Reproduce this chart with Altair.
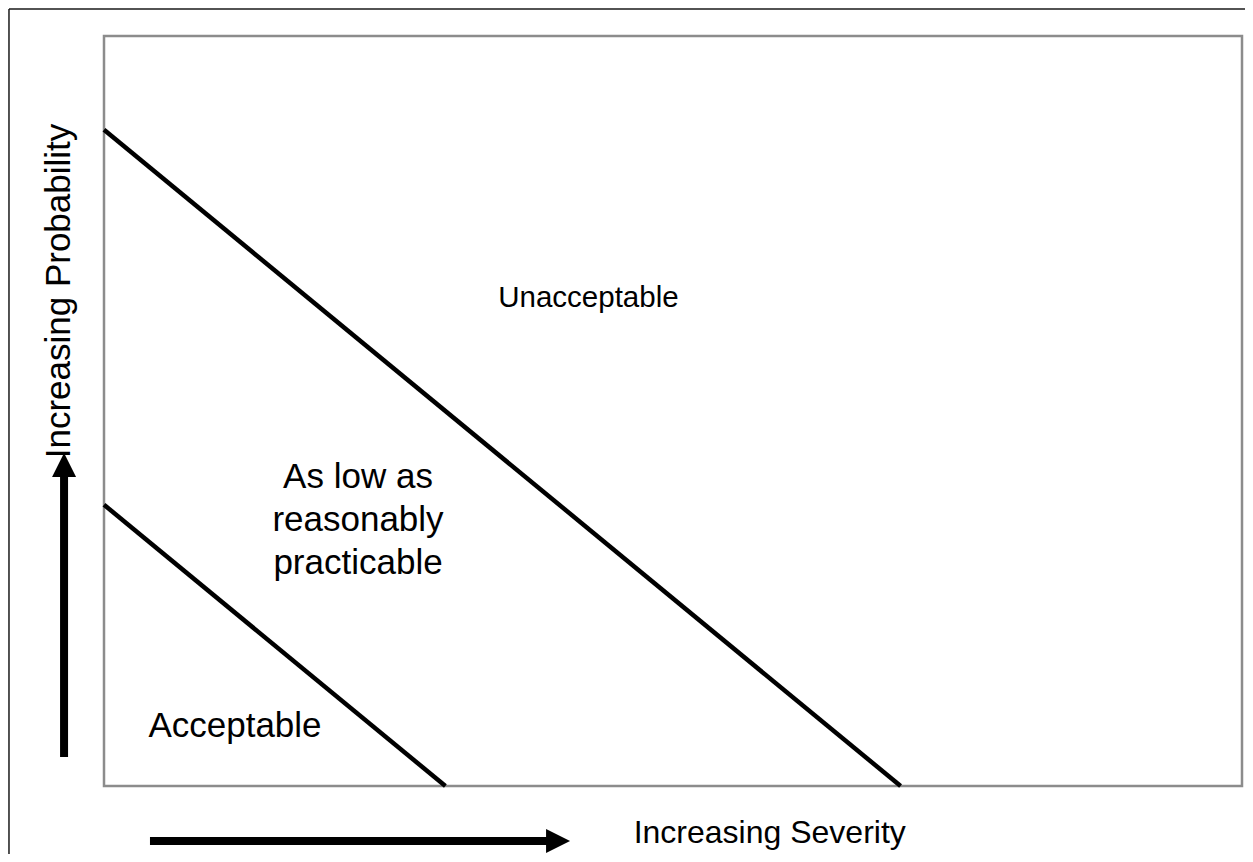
import altair as alt
import pandas as pd

# Plot box: severity 0-10 (x) by probability 0-10 (y)
boundary_group = ["upper", "upper", "lower", "lower"]
boundary_sev = [0.0, 7.0, 0.0, 3.0]
boundary_prob = [8.75, 0.0, 3.75, 0.0]

region_labels = ["Unacceptable", "As low as\nreasonably\npracticable", "Acceptable"]
region_sev = [4.257, 2.232, 1.151]
region_prob = [6.39, 3.973, 0.649]
region_size = [29.5, 35, 35]

axis_titles = ["Increasing Severity", "Increasing Probability"]
axis_title_sev = [5.85, -0.299]
axis_title_prob = [-0.76, 6.6]
axis_title_angle = [0, 270]
axis_title_size = [32, 35]

shaft_sev = [0.404, -0.351]
shaft_sev2 = [3.99, -0.351]
shaft_prob = [-0.733, 0.387]
shaft_prob2 = [-0.733, 4.28]
head_sev = [3.99, -0.351]
head_prob = [-0.733, 4.28]
head_shape = ["M1,0L-1,-1L-1,1Z", "M0,-1L1,1L-1,1Z"]

frame_sev = [-0.835, -0.835]
frame_sev2 = [-0.835, 10.4]
frame_prob = [-1.4, 10.36]
frame_prob2 = [10.36, 10.36]

FONT = "Liberation Sans"
xs = alt.Scale(domain=[0, 10], nice=False, zero=False)
ys = alt.Scale(domain=[0, 10], nice=False, zero=False)


def X(f):
    return alt.X(f, type="quantitative", scale=xs, axis=None)


def Y(f):
    return alt.Y(f, type="quantitative", scale=ys, axis=None)


lines_df = pd.DataFrame({"g": boundary_group, "s": boundary_sev, "p": boundary_prob})
lines = alt.Chart(lines_df).mark_line(color="black", strokeWidth=4.5, strokeCap="butt").encode(
    x=X("s"), y=Y("p"), detail="g:N"
)

reg_df = pd.DataFrame({"t": region_labels, "s": region_sev, "p": region_prob, "fs": region_size})
regions = alt.Chart(reg_df).mark_text(
    font=FONT, color="black", align="center", baseline="alphabetic", lineBreak="\n", lineHeight=43
).encode(x=X("s"), y=Y("p"), text="t:N", size=alt.Size("fs:Q", scale=None))

ax_df = pd.DataFrame({"t": axis_titles, "s": axis_title_sev, "p": axis_title_prob,
                      "a": axis_title_angle, "fs": axis_title_size})
titles = alt.Chart(ax_df).mark_text(
    font=FONT, color="black", align="center", baseline="alphabetic"
).encode(x=X("s"), y=Y("p"), text="t:N", angle=alt.Angle("a:Q", scale=None),
         size=alt.Size("fs:Q", scale=None))

shaft_df = pd.DataFrame({"s": shaft_sev, "s2": shaft_sev2, "p": shaft_prob, "p2": shaft_prob2})
shafts = alt.Chart(shaft_df).mark_rule(color="black", strokeWidth=8, strokeCap="butt").encode(
    x=X("s"), x2="s2", y=Y("p"), y2="p2"
)

head_df = pd.DataFrame({"s": head_sev, "p": head_prob, "sh": head_shape})
heads = alt.Chart(head_df).mark_point(filled=True, color="black", opacity=1, size=576, strokeWidth=0).encode(
    x=X("s"), y=Y("p"), shape=alt.Shape("sh:N", scale=None)
)

frame_df = pd.DataFrame({"s": frame_sev, "s2": frame_sev2, "p": frame_prob, "p2": frame_prob2})
frame = alt.Chart(frame_df).mark_rule(color="#1a1a1a", strokeWidth=1.5).encode(
    x=X("s"), x2="s2", y=Y("p"), y2="p2"
)

chart = alt.layer(frame, lines, shafts, heads, regions, titles).properties(
    width=1138, height=750,
    autosize=alt.AutoSizeParams(type="none"),
    padding={"left": 96, "top": 28, "right": 3, "bottom": 68},
    background="white",
).configure_view(stroke="#8c8c8c", strokeWidth=2.5)

chart.save("out.html", embed_options={"renderer": "svg", "actions": False})
